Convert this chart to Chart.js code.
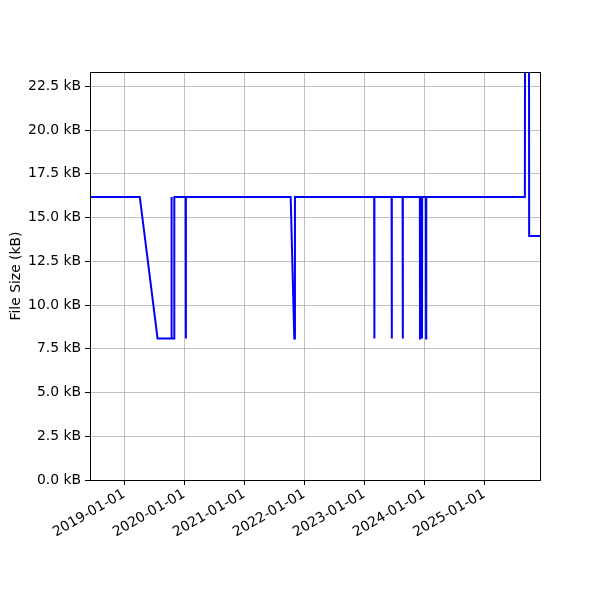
<!DOCTYPE html>
<html>
<head>
<meta charset="utf-8">
<script src="https://cdn.jsdelivr.net/npm/chart.js@4/dist/chart.umd.min.js"></script>
<style>
  body { margin: 0; background: #fff; }
  canvas { display: block; }
</style>
</head>
<body>
<canvas id="chart" width="600" height="600"></canvas>
<script>
// Data
const dates = [
    '2018-06-08', '2019-04-07', '2019-07-24', '2019-10-16', '2019-10-17', '2019-10-18',
    '2019-11-02', '2019-11-03', '2020-01-11', '2020-01-12', '2020-01-13',
    '2021-10-11', '2021-11-02', '2021-11-06',
    '2023-03-03', '2023-03-04', '2023-03-05',
    '2023-06-17', '2023-06-18', '2023-06-19',
    '2023-08-23', '2023-08-24', '2023-08-25',
    '2023-12-06', '2023-12-07', '2023-12-08',
    '2023-12-18', '2023-12-19', '2023-12-20',
    '2024-01-12', '2024-01-13', '2024-01-14',
    '2025-09-05', '2025-09-06', '2025-09-30', '2025-10-01', '2025-12-06'
];
const sizes = [
    16.18, 16.18, 8.09, 8.09, 16.18, 8.09,
    8.09, 16.18, 16.18, 8.09, 16.18,
    16.18, 8.09, 16.18,
    16.18, 8.09, 16.18,
    16.18, 8.09, 16.18,
    16.18, 8.09, 16.18,
    16.18, 8.09, 16.18,
    16.18, 8.09, 16.18,
    16.18, 8.09, 16.18,
    16.18, 26.0, 26.0, 13.95, 13.95
];
const yearTicks = ['2019-01-01', '2020-01-01', '2021-01-01', '2022-01-01', '2023-01-01', '2024-01-01', '2025-01-01'];
const sizeTicks = [0, 2.5, 5, 7.5, 10, 12.5, 15, 17.5, 20, 22.5];
const xRange = ['2018-06-08', '2025-12-06'];
const yRange = [0, 23.32];

function toMs(s) {
    const [y, m, d] = s.split('-').map(Number);
    return Date.UTC(y, m - 1, d);
}
function fmtDate(v) {
    const d = new Date(v);
    const p = n => String(n).padStart(2, '0');
    return d.getUTCFullYear() + '-' + p(d.getUTCMonth() + 1) + '-' + p(d.getUTCDate());
}

const points = dates.map((d, i) => ({ x: toMs(d), y: sizes[i] }));

// draws the full box round the plot like matplotlib spines
const frame = {
    id: 'frame',
    afterDraw(chart) {
        const a = chart.chartArea;
        const ctx = chart.ctx;
        ctx.save();
        ctx.strokeStyle = '#000';
        ctx.lineWidth = 1;
        ctx.strokeRect(Math.round(a.left) + 0.5, Math.round(a.top) + 0.5,
            Math.round(a.right - a.left), Math.round(a.bottom - a.top));
        ctx.restore();
    }
};

Chart.defaults.font.family = 'DejaVu Sans';
Chart.defaults.font.size = 13.9;
Chart.defaults.color = '#000';

new Chart(document.getElementById('chart'), {
    type: 'line',
    data: {
        datasets: [{
            data: points,
            borderColor: '#0000ff',
            borderWidth: 2,
            pointRadius: 0,
            fill: false,
            tension: 0
        }]
    },
    options: {
        responsive: false,
        animation: false,
        layout: { padding: { top: 72, right: 60, left: 0, bottom: 0 } },
        plugins: { legend: { display: false }, tooltip: { enabled: false } },
        scales: {
            x: {
                type: 'linear',
                min: toMs(xRange[0]),
                max: toMs(xRange[1]),
                afterBuildTicks: s => { s.ticks = yearTicks.map(t => ({ value: toMs(t) })); },
                afterFit: s => { s.height = 120; },
                grid: { color: '#b0b0b0', lineWidth: 0.8, tickColor: '#000', tickLength: 5, tickWidth: 1 },
                border: { display: true, color: '#000', width: 1 },
                ticks: {
                    minRotation: 30,
                    maxRotation: 30,
                    padding: 1,
                    autoSkip: false,
                    callback: v => fmtDate(v)
                }
            },
            y: {
                min: yRange[0],
                max: yRange[1],
                afterBuildTicks: s => { s.ticks = sizeTicks.map(t => ({ value: t })); },
                afterFit: s => { s.width = 90; },
                grid: { color: '#b0b0b0', lineWidth: 0.8, tickColor: '#000', tickLength: 5, tickWidth: 1 },
                border: { display: true, color: '#000', width: 1 },
                ticks: {
                    padding: 4,
                    callback: v => v.toFixed(1) + ' kB'
                },
                title: {
                    display: true,
                    text: 'File Size (kB)',
                    padding: { top: 8, bottom: 0 }
                }
            }
        }
    },
    plugins: [frame]
});
</script>
</body>
</html>
